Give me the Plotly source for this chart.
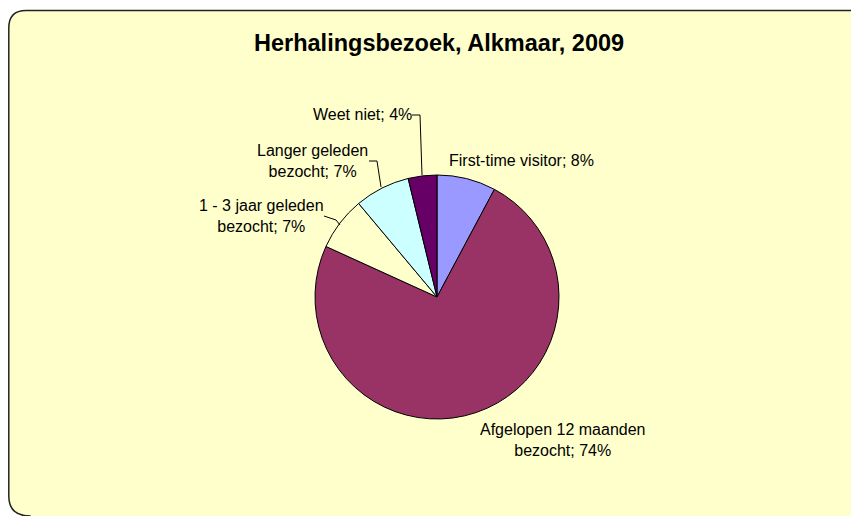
import plotly.graph_objects as go

OFF = 8  # page body margin shifts the figure by 8px
W, H = 859 - OFF, 516 - OFF

labels = ["First-time visitor", "Afgelopen 12 maanden bezocht", "1 - 3 jaar geleden bezocht",
          "Langer geleden bezocht", "Weet niet"]
values = [7.8, 74.0, 7.1, 7.3, 3.8]
label_texts = ["First-time visitor; 8%", "Afgelopen 12 maanden<br>bezocht; 74%",
               "1 - 3 jaar geleden<br>bezocht; 7%", "Langer geleden<br>bezocht; 7%",
               "Weet niet; 4%"]
colors = ["#9999FF", "#993366", "#FFFFCC", "#CCFFFF", "#660066"]

# label centre positions in screen pixels (x, y from top)
label_pos = [(521, 160), (562, 440), (261, 216), (312, 161), (362, 115)]
# leader lines (screen pixel points)
leaders = [None, None,
           [(324, 216), (336, 220), (340, 225)],
           [(369, 161), (377, 161), (381, 187)],
           [(412, 115), (420, 115), (422, 175)]]


def px_x(x):
    return (x - OFF) / W


def px_y(y):
    return 1 - (y - OFF) / H


cx, cy, r = 437, 297, 122

fig = go.Figure(go.Pie(
    labels=labels,
    values=values,
    sort=False,
    direction="clockwise",
    rotation=0,
    marker=dict(colors=colors, line=dict(color="black", width=1)),
    textinfo="none",
    hoverinfo="label+percent",
    showlegend=False,
    domain=dict(x=[px_x(cx - r), px_x(cx + r)], y=[px_y(cy + r), px_y(cy - r)]),
))

# rounded chart-area frame
frame = (f"M {px_x(30)},{px_y(516)} Q {px_x(8.8)},{px_y(516)} {px_x(8.8)},{px_y(496)} "
         f"L {px_x(8.8)},{px_y(28)} Q {px_x(8.8)},{px_y(10.5)} {px_x(26)},{px_y(10.5)} "
         f"L {px_x(848)},{px_y(10.5)} Q {px_x(862)},{px_y(10.5)} {px_x(866)},{px_y(20)} "
         f"L {px_x(866)},{px_y(540)} L {px_x(30)},{px_y(540)} Z")
shapes = [dict(type="path", xref="paper", yref="paper", path=frame,
               fillcolor="#FFFFCC", line=dict(color="#222222", width=1.5), layer="below")]

for pts in leaders:
    if pts is None:
        continue
    path = "M " + " L ".join(f"{px_x(x)},{px_y(y)}" for x, y in pts)
    shapes.append(dict(type="path", xref="paper", yref="paper", path=path,
                       line=dict(color="black", width=1)))

annotations = [dict(
    text="<b>Herhalingsbezoek, Alkmaar, 2009</b>",
    x=px_x(439), y=px_y(43), xref="paper", yref="paper",
    xanchor="center", yanchor="middle",
    showarrow=False, font=dict(size=23.5, color="black"),
)]
for txt, (x, y) in zip(label_texts, label_pos):
    annotations.append(dict(
        text=txt, x=px_x(x), y=px_y(y), xref="paper", yref="paper",
        xanchor="center", yanchor="middle",
        showarrow=False, align="center", font=dict(size=16, color="black"),
    ))

fig.update_layout(
    width=W, height=H,
    margin=dict(l=0, r=0, t=0, b=0),
    paper_bgcolor="white",
    plot_bgcolor="white",
    font=dict(family="Liberation Sans, Arial, sans-serif"),
    shapes=shapes,
    annotations=annotations,
)

fig.write_html("out.html")
